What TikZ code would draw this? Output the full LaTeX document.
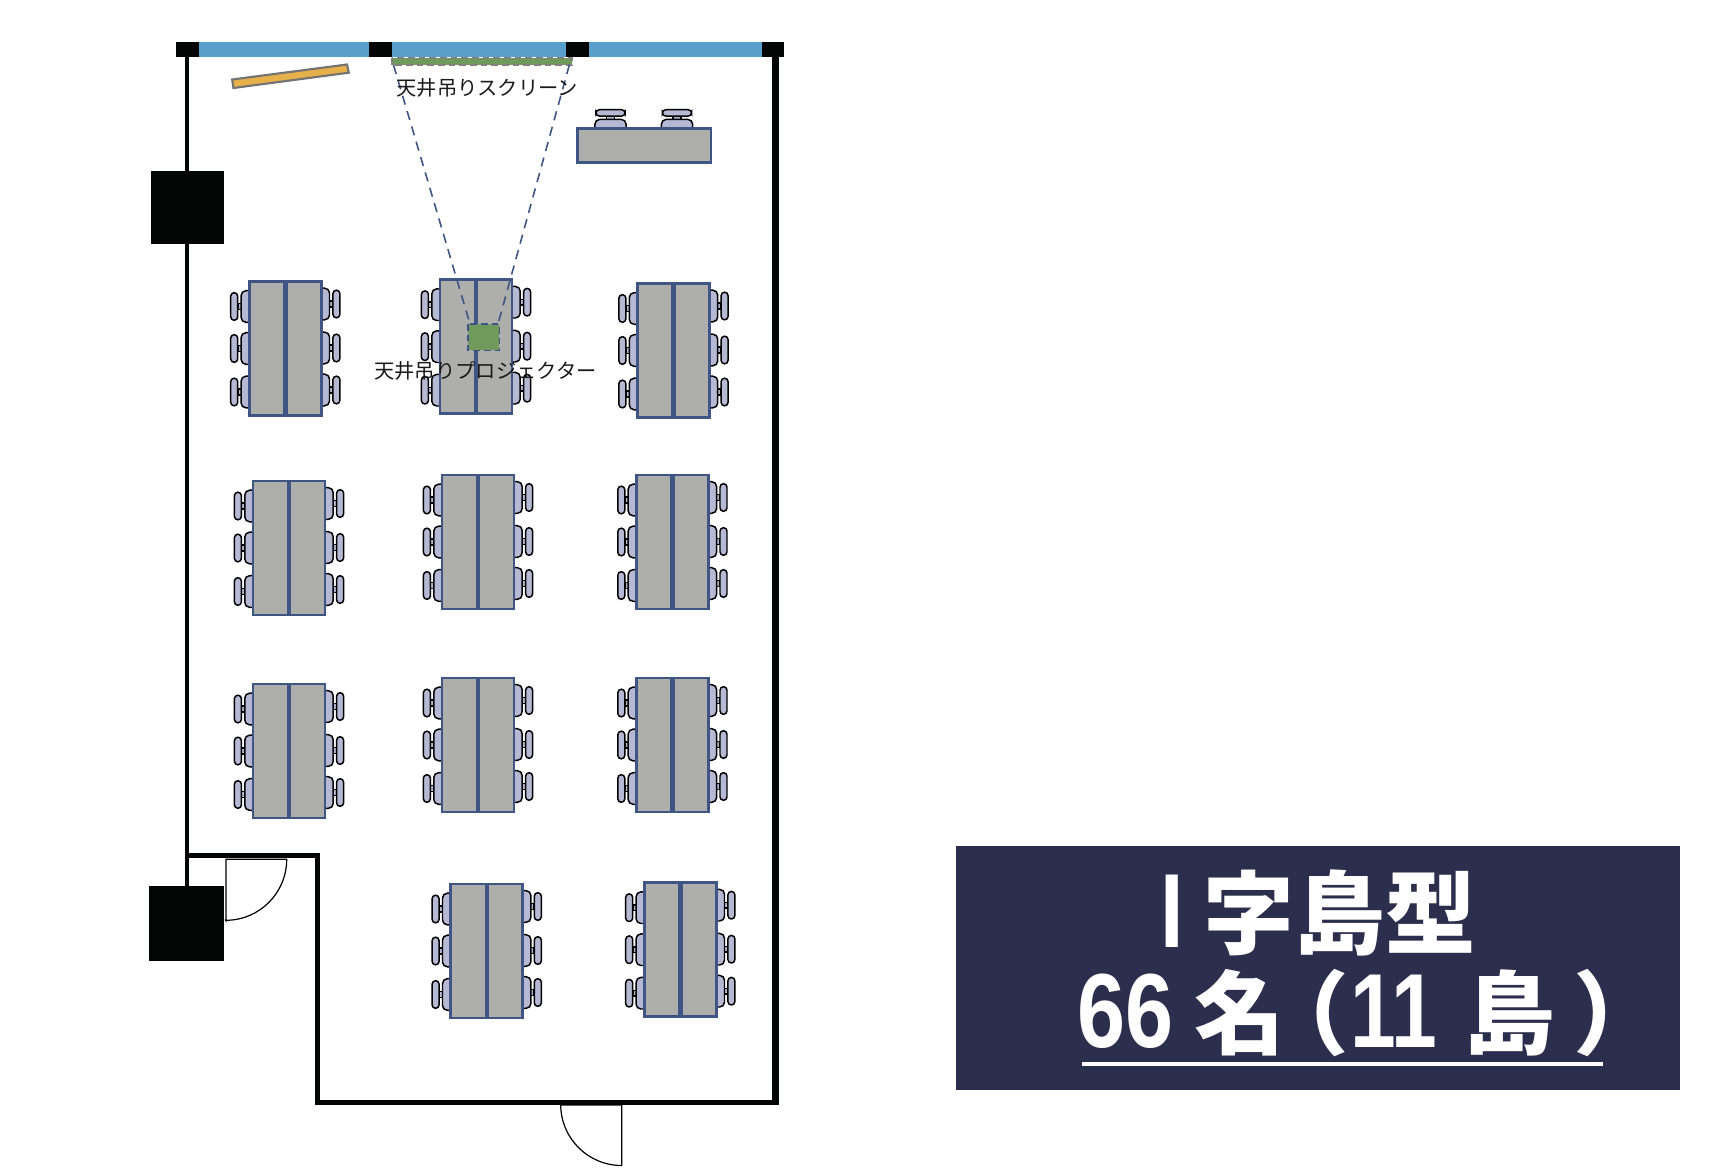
\documentclass[tikz,border=0pt]{standalone}
\usepackage{fontspec}
\usepackage{graphicx}
\newfontfamily\cjk{Noto Sans CJK JP}
\newfontfamily\latn{Liberation Sans}
\definecolor{bandblue}{HTML}{589FCC}
\definecolor{wallblack}{HTML}{030605}
\definecolor{tablegray}{HTML}{AEAEAC}
\definecolor{edgeblue}{HTML}{3F5684}
\definecolor{chairfill}{HTML}{B6B9D3}
\definecolor{screengreen}{HTML}{6F9A5C}
\definecolor{boardorange}{HTML}{E6B04A}
\definecolor{titlenavy}{HTML}{2C2E4D}
\tikzset{
  wall/.style={draw=wallblack,line width=3.6pt,line cap=butt,line join=miter},
  pillar/.style={fill=wallblack,draw=none},
  windowpane/.style={fill=bandblue,draw=none},
  tabletop/.style={fill=tablegray,draw=edgeblue,line width=2.1pt},
  chairpart/.style={fill=chairfill,draw=black,line width=1.1pt},
  beam/.style={draw=edgeblue,line width=1.2pt,dash pattern=on 7pt off 5pt},
  doorleaf/.style={fill=white,draw=black,line width=.9pt},
  caption/.style={font=\cjk\fontsize{15.2pt}{15.2pt}\selectfont,inner sep=0pt,text=black!90}
}
% side chair: x runs away from the table edge, y along the edge
\newcommand{\sidechair}[3]{%
  \begin{scope}[shift={(#1,#2)},xscale=#3]
    \draw[chairpart] (10.5,-2.8) rectangle (-0,2.8);
    \draw[chairpart,rounded corners=3.6pt] (0,-15.8) -- (7.2,-15.8) -- (7.2,15.8) -- (0,15.8);
    \draw[chairpart,rounded corners=2.6pt] (10.6,-13.8) rectangle (17.6,13.8);
  \end{scope}}
\newcommand{\topchair}[2]{%
  \begin{scope}[shift={(#1,#2)}]
    \draw[chairpart] (-3.8,-11) rectangle (3.8,-6);
    \draw[chairpart,rounded corners=3.6pt] (-15.6,0) -- (-15.6,-7.6) -- (15.6,-7.6) -- (15.6,0);
    \draw[chairpart,rounded corners=2.6pt] (-14.6,-17.3) rectangle (14.6,-10.9);
  \end{scope}}
% island: two table tops and six chairs, (#1,#2) is the top-left corner
\newcommand{\island}[2]{%
  \begin{scope}[shift={(#1,#2)}]
    \sidechair{0}{26}{-1}\sidechair{0}{68}{-1}\sidechair{0}{111.5}{-1}
    \sidechair{74}{23.5}{1}\sidechair{74}{67.5}{1}\sidechair{74}{109.5}{1}
    \draw[tabletop] (1,1) rectangle (36.2,135);
    \draw[tabletop] (37.8,1) rectangle (73,135);
  \end{scope}}
\begin{document}
\begin{tikzpicture}[x=.75pt,y=-.75pt]
\useasboundingbox (0,0) rectangle (1734,1174);
% walls
\draw[wall] (187,56) -- (187,890);
\draw[wall] (187,855.5) -- (317.7,855.5) -- (317.7,1102.3) -- (775.5,1102.3);
\draw[wall,line width=4.8pt] (775.5,56) -- (775.5,1104.5);
% window band
\fill[windowpane] (198,42) rectangle (370,56.7);
\fill[windowpane] (392,42) rectangle (566,56.7);
\fill[windowpane] (589,42) rectangle (762,56.7);
\fill[pillar] (176.2,42) rectangle (198.5,56.7);
\fill[pillar] (369.4,42) rectangle (392.1,56.7);
\fill[pillar] (565.9,42) rectangle (589.1,56.7);
\fill[pillar] (762,42) rectangle (784.4,56.7);
\fill[pillar] (150.5,170.5) rectangle (224.2,244);
\fill[pillar] (148.8,886) rectangle (224,961);
% doors
\draw[doorleaf] (226,920.7) -- (226,859.3) -- (286.7,859.3) arc[start angle=0,end angle=90,radius=61] -- cycle;
\draw[doorleaf] (560.7,1105) -- (621.7,1105) -- (621.7,1165.5) arc[start angle=90,end angle=180,radius=61] -- cycle;
% board
\draw[fill=boardorange,draw=black!55,line width=1.6pt] (232.2,79.5) -- (347,64.5) -- (348.8,72.7) -- (233.4,88) -- cycle;
% front desk
\topchair{610.5}{127}\topchair{677}{127}
\draw[tabletop] (577.5,128.3) rectangle (711,162.3);
% islands
\island{248.3}{280.5}
\island{439}{278.7}
\island{636.5}{282.5}
\island{252}{480}
\island{441}{474}
\island{635.4}{474}
\island{252}{683}
\island{441}{677}
\island{635.4}{677}
\island{449.7}{883}
\island{643.3}{881.7}
% screen, projector and beams
\coordinate (scrL) at (393.5,65);
\coordinate (scrR) at (569.3,65);
\coordinate (projL) at (470,324);
\coordinate (projR) at (498,324);
\fill[screengreen] (391.7,58) rectangle (572.2,65);
\draw[draw=black!50,line width=1.3pt,dash pattern=on 5pt off 3pt] (391.7,58) rectangle (572.2,65);
\draw[beam] (scrL) -- (projL);
\draw[beam] (scrR) -- (projR);
\draw[beam,fill=screengreen,dash pattern=on 5pt off 3pt] (467.7,324) rectangle (499.3,350.3);
% labels
\node[caption,anchor=center] (screenlabel) at (487.2,88) {天井吊りスクリーン};
\node[caption,anchor=center] (projectorlabel) at (485.5,370.5) {天井吊りプロジェクター};
% title
\fill[titlenavy] (955.5,846) rectangle (1680,1090);
\node[anchor=west,inner sep=0pt,text=white] (titleone) at (1160,913) {\cjk\bfseries\fontsize{68pt}{68pt}\selectfont{\latn\scalebox{.8}[1]{\fontsize{79pt}{79pt}\selectfont I}}\kern 15pt 字島型};
\node[anchor=west,inner sep=0pt,text=white] (titletwo) at (1077,1013) {\cjk\bfseries\fontsize{68pt}{68pt}\selectfont{\latn\scalebox{.82}[1]{\fontsize{79pt}{79pt}\selectfont 66}}\kern 16pt 名\kern -20pt（\kern 1pt{\latn\scalebox{.78}[1]{\fontsize{79pt}{79pt}\selectfont 11}}\kern 20pt 島\kern 14pt）};
\draw[draw=white,line width=2.8pt] (1081.6,1064) -- (1602.5,1064);
\end{tikzpicture}
\end{document}
